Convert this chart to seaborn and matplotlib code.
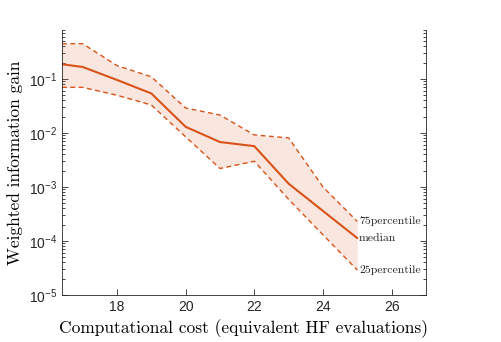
import numpy as np
import pandas as pd
import matplotlib
matplotlib.use('Agg')
import matplotlib.pyplot as plt
import seaborn as sns

cost = [16.4, 17, 18, 19, 20, 21, 22, 23, 24, 25]
median = [0.187, 0.167, 0.096, 0.054, 0.013, 0.0068, 0.0057, 1.15e-3, 3.6e-4, 1.13e-4]
p75 = [0.45, 0.45, 0.177, 0.11, 0.029, 0.0215, 0.0092, 0.0081, 1.0e-3, 2.3e-4]
p25 = [0.070, 0.070, 0.050, 0.033, 0.0085, 0.0022, 0.0030, 5.9e-4, 1.3e-4, 2.9e-5]

df = pd.DataFrame({'cost': cost, 'median': median, 'p75': p75, 'p25': p25})

sns.set_style('ticks')
plt.rcParams['font.family'] = ['Liberation Sans', 'DejaVu Sans']
plt.rcParams['mathtext.fontset'] = 'custom'
plt.rcParams['mathtext.rm'] = 'Liberation Sans'

orange = '#D95319'
axcol = '#262626'

fig = plt.figure(figsize=(5.01, 3.42), dpi=100)
ax = fig.add_axes([0.1238, 0.1374, 0.7265, 0.7749])

ax.fill_between(df['cost'], df['p25'], df['p75'], color=orange, alpha=0.14, linewidth=0)
sns.lineplot(data=df, x='cost', y='p75', ax=ax, color=orange, linewidth=1.0, dashes=(3.5, 2.5))
sns.lineplot(data=df, x='cost', y='p25', ax=ax, color=orange, linewidth=1.0, dashes=(3.5, 2.5))
sns.lineplot(data=df, x='cost', y='median', ax=ax, color=orange, linewidth=1.5)

ax.set_yscale('log')
ax.set_xlim(16.4, 27)
ax.set_ylim(1e-5, 0.807)
ax.set_xticks([18, 20, 22, 24, 26])

serif = 'cmr10'
ax.set_xlabel('Computational cost (equivalent HF evaluations)', family=serif, fontsize=12.5, color='black')
ax.set_ylabel('Weighted information gain', family=serif, fontsize=12.5, color='black')

ax.text(25.05, p75[-1], '75percentile', family=serif, fontsize=8.5, va='center', ha='left')
ax.text(25.05, median[-1], 'median', family=serif, fontsize=8.5, va='center', ha='left')
ax.text(25.05, p25[-1], '25percentile', family=serif, fontsize=8.5, va='center', ha='left')

ax.spines['top'].set_visible(False)
for s in ['left', 'right', 'bottom']:
    ax.spines[s].set_color(axcol)
    ax.spines[s].set_linewidth(0.6)
ax.tick_params(which='both', direction='in', right=True, top=False, colors=axcol, width=0.6)
ax.tick_params(which='major', length=4, labelsize=10, labelcolor=axcol)
ax.tick_params(which='minor', length=2.5)
ax.yaxis.set_minor_locator(matplotlib.ticker.LogLocator(base=10, subs=np.arange(2, 10)))
ax.xaxis.set_minor_locator(matplotlib.ticker.NullLocator())

fig.savefig('out.png', dpi=100)
